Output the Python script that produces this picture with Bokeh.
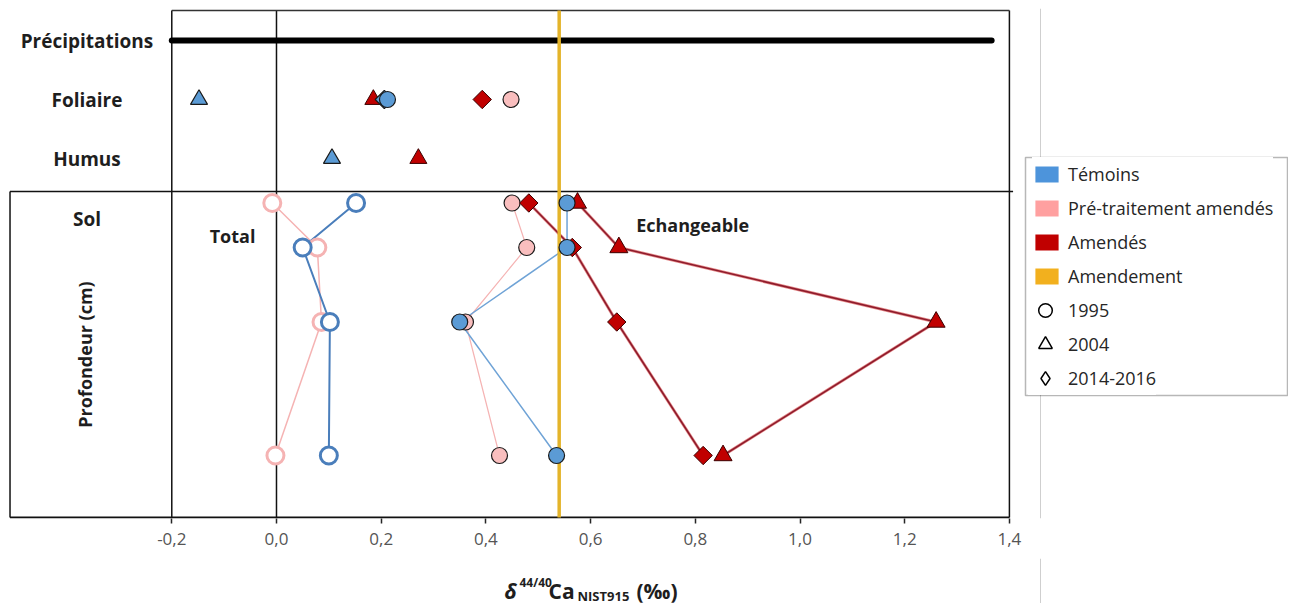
import math
from bokeh.plotting import figure
from bokeh.layouts import column
from bokeh.models import (Range1d, FixedTicker, Span, Label, Legend, LegendItem,
                          BoxAnnotation)
from bokeh.embed import file_html
from bokeh.resources import INLINE

# ---------------- data ----------------
x_ticks = [-0.2, 0.0, 0.2, 0.4, 0.6, 0.8, 1.0, 1.2, 1.4]
x_tick_labels = ["-0,2", "0,0", "0,2", "0,4", "0,6", "0,8", "1,0", "1,2", "1,4"]

row_names = ["Précipitations", "Foliaire", "Humus", "Sol"]
row_levels = [29, 88, 147, 207]          # vertical position of each compartment
soil_levels = [191.5, 236, 310.5, 444]   # soil depth rows (top -> bottom)

precip_range = [-0.2, 1.366]
amendement = 0.54

# Foliaire
fol_temoins_1995 = [0.212]
fol_temoins_2004 = [-0.148]
fol_temoins_2014 = [0.206]
fol_pretrait_1995 = [0.448]
fol_amendes_2004 = [0.185]
fol_amendes_2014 = [0.393]
# Humus
hum_temoins_2004 = [0.106]
hum_amendes_2004 = [0.271]
# Sol - total
tot_temoins_1995 = [0.152, 0.050, 0.102, 0.100]
tot_pretrait_1995 = [-0.008, 0.078, 0.086, -0.002]
# Sol - échangeable
ech_temoins_1995 = [0.555, 0.555, 0.350, 0.535]
ech_pretrait_1995 = [0.450, 0.478, 0.361, 0.426]
ech_amendes_2004 = [0.575, 0.654, 1.260, 0.853]
ech_amendes_2014 = [0.482, 0.565, 0.650, 0.815]

# ---------------- styles ----------------
BLUE = "#5b9bd5"
BLUE_DARK = "#4a7ebb"
PINK = "#f9bebe"
PINK_LINE = "#f5b3b3"
RED = "#c00000"
YELLOW = "#e4b42a"
EDGE = "#1a1a1a"
FONT = "Open Sans"
NAN = float("nan")
DIAMOND = dict(marker="square", angle=math.pi / 4, size=13)

X_START, X_END = -0.5119, 1.9331
BOX_LEFT = -0.509
TOP, BOTTOM, SEP = -1, 506, 180
GREY_EDGE = 1.4594

x_range = Range1d(X_START, X_END)

p = figure(width=1288, height=558, output_backend="svg", toolbar_location=None,
           x_range=x_range, y_range=Range1d(507, -3),
           y_axis_location=None, min_border_left=8, min_border_right=0,
           min_border_top=8, min_border_bottom=40)
p.outline_line_color = None
p.xgrid.visible = False
p.ygrid.visible = False
p.background_fill_color = "white"
p.border_fill_color = "white"

ax = p.xaxis[0]
ax.ticker = FixedTicker(ticks=x_ticks, minor_ticks=[])
ax.major_label_overrides = dict(zip(x_ticks, x_tick_labels))
ax.axis_line_color = None
ax.major_tick_line_color = "#262626"
ax.major_tick_line_width = 1.5
ax.major_tick_out = 5
ax.major_tick_in = 0
ax.minor_tick_line_color = None
ax.major_label_standoff = 9
ax.major_label_text_font = FONT
ax.major_label_text_font_size = "17px"
ax.major_label_text_color = "#555555"

# page-edge grey line behind the legend
p.add_layout(Span(location=GREY_EDGE, dimension="height", line_color="#cfcfcf",
                  line_width=1, level="underlay"))

# frame lines
p.segment(x0=[-0.2, 0.0, 1.4], y0=[TOP] * 3, x1=[-0.2, 0.0, 1.4], y1=[BOTTOM] * 3,
          line_color="#111111", line_width=1.5)
p.segment(x0=[-0.2], y0=[TOP], x1=[1.4], y1=[TOP], line_color="#333333", line_width=1.5)
p.segment(x0=[BOX_LEFT], y0=[BOTTOM], x1=[1.4], y1=[BOTTOM], line_color="#111111", line_width=2)
p.segment(x0=[BOX_LEFT], y0=[SEP], x1=[1.407], y1=[SEP], line_color="#111111", line_width=1.5)
p.segment(x0=[BOX_LEFT], y0=[SEP], x1=[BOX_LEFT], y1=[BOTTOM], line_color="#111111", line_width=1.5)

# précipitations
p.line(x=precip_range, y=[row_levels[0]] * 2, line_color="black", line_width=6, line_cap="round")

# soil profile lines
p.line(x=tot_pretrait_1995, y=soil_levels, line_color=PINK_LINE, line_width=1.5)
p.line(x=tot_temoins_1995, y=soil_levels, line_color=BLUE_DARK, line_width=2)
p.line(x=ech_pretrait_1995, y=soil_levels, line_color=PINK_LINE, line_width=1.2)
p.line(x=ech_temoins_1995, y=soil_levels, line_color="#6fa3d6", line_width=1.5)
for xs in (ech_amendes_2014, ech_amendes_2004):
    p.line(x=xs, y=soil_levels, line_color="#e58a8a", line_width=3)
    p.line(x=xs, y=soil_levels, line_color="#8e1b2b", line_width=1.5)

# amendement
p.segment(x0=[amendement], y0=[TOP], x1=[amendement], y1=[BOTTOM], line_color=YELLOW, line_width=3.5)


def pts(xs, level):
    return xs, [level] * len(xs)


# total (open circles)
p.scatter(x=tot_pretrait_1995, y=soil_levels, marker="circle", size=17,
          fill_color="white", line_color=PINK_LINE, line_width=3)
p.scatter(x=tot_temoins_1995, y=soil_levels, marker="circle", size=17,
          fill_color="white", line_color=BLUE_DARK, line_width=3)

# pink filled
x, y = pts(fol_pretrait_1995, row_levels[1])
p.scatter(x=x, y=y, marker="circle", size=16, fill_color=PINK, line_color=EDGE, line_width=1.2)
p.scatter(x=ech_pretrait_1995, y=soil_levels, marker="circle", size=16, fill_color=PINK,
          line_color=EDGE, line_width=1.2)

# red
x, y = pts(fol_amendes_2004, row_levels[1])
p.scatter(x=x, y=y, marker="triangle", size=17, fill_color=RED, line_color="#3a0000", line_width=1)
x, y = pts(fol_amendes_2014, row_levels[1])
p.scatter(x=x, y=y, fill_color=RED, line_color="#3a0000", line_width=1, **DIAMOND)
x, y = pts(hum_amendes_2004, row_levels[2])
p.scatter(x=x, y=y, marker="triangle", size=17, fill_color=RED, line_color="#3a0000", line_width=1)
p.scatter(x=ech_amendes_2004, y=soil_levels, marker="triangle", size=18, fill_color=RED,
          line_color="#3a0000", line_width=1)
p.scatter(x=ech_amendes_2014, y=soil_levels, fill_color=RED, line_color="#3a0000",
          line_width=1, **DIAMOND)

# blue
x, y = pts(fol_temoins_2004, row_levels[1])
p.scatter(x=x, y=y, marker="triangle", size=17, fill_color=BLUE, line_color=EDGE, line_width=1.2)
x, y = pts(fol_temoins_2014, row_levels[1])
p.scatter(x=x, y=y, fill_color=BLUE, line_color=EDGE, line_width=1.2, **DIAMOND)
x, y = pts(fol_temoins_1995, row_levels[1])
p.scatter(x=x, y=y, marker="circle", size=16, fill_color=BLUE, line_color=EDGE, line_width=1.2)
x, y = pts(hum_temoins_2004, row_levels[2])
p.scatter(x=x, y=y, marker="triangle", size=17, fill_color=BLUE, line_color=EDGE, line_width=1.2)
p.scatter(x=ech_temoins_1995, y=soil_levels, marker="circle", size=16, fill_color=BLUE,
          line_color=EDGE, line_width=1.2)

# ---- texts ----
LABEL_X = -0.362
for name, lvl in zip(row_names, row_levels):
    p.add_layout(Label(x=LABEL_X, y=lvl, text=name, text_align="center", text_baseline="middle",
                       text_font=FONT, text_font_style="bold", text_font_size="19px",
                       text_color="#1e1e1e"))
p.add_layout(Label(x=-0.365, y=343, text="Profondeur (cm)", angle=math.pi / 2,
                   text_align="center", text_baseline="middle", text_font=FONT,
                   text_font_style="bold", text_font_size="18px", text_color="#1e1e1e"))
p.add_layout(Label(x=-0.084, y=224, text="Total", text_align="center", text_baseline="middle",
                   text_font=FONT, text_font_style="bold", text_font_size="18px",
                   text_color="#1e1e1e"))
p.add_layout(Label(x=0.795, y=213, text="Echangeable", text_align="center",
                   text_baseline="middle", text_font=FONT, text_font_style="bold",
                   text_font_size="18px", text_color="#1e1e1e"))

# ---- legend ----
r_tem = p.quad(left=[NAN], right=[NAN], top=[NAN], bottom=[NAN], fill_color="#4d94db", line_color=None)
r_pre = p.quad(left=[NAN], right=[NAN], top=[NAN], bottom=[NAN], fill_color="#ffa0a0", line_color=None)
r_ame = p.quad(left=[NAN], right=[NAN], top=[NAN], bottom=[NAN], fill_color=RED, line_color=None)
r_amd = p.quad(left=[NAN], right=[NAN], top=[NAN], bottom=[NAN], fill_color="#f2b01e", line_color=None)
r_95 = p.scatter(x=[NAN], y=[NAN], marker="circle", fill_color="white", line_color="black", line_width=1.5)
r_04 = p.scatter(x=[NAN], y=[NAN], marker="triangle", fill_color="white", line_color="black", line_width=1.5)
r_14 = p.scatter(x=[NAN], y=[NAN], marker="diamond", fill_color="white", line_color="black", line_width=1.5)

common = dict(spacing=0, padding=0, margin=0, label_height=34, border_line_color=None,
              background_fill_color="white", background_fill_alpha=1.0,
              label_text_font=FONT, label_text_font_size="18px",
              label_text_color="#262626", label_text_baseline="middle")
legA = Legend(items=[LegendItem(label="Témoins", renderers=[r_tem]),
                     LegendItem(label="Pré-traitement amendés", renderers=[r_pre]),
                     LegendItem(label="Amendés", renderers=[r_ame]),
                     LegendItem(label="Amendement", renderers=[r_amd])],
              location=(1024, 225), glyph_width=29, glyph_height=20, label_standoff=7, **common)
legB = Legend(items=[LegendItem(label="1995", renderers=[r_95]),
                     LegendItem(label="2004", renderers=[r_04]),
                     LegendItem(label="2014-2016", renderers=[r_14])],
              location=(1020, 123), glyph_width=34, glyph_height=34, label_standoff=6, **common)
p.add_layout(legA)
p.add_layout(legB)
p.add_layout(BoxAnnotation(left=1017, right=1279, bottom=123, top=361,
                           left_units="screen", right_units="screen",
                           bottom_units="screen", top_units="screen",
                           fill_color=None, fill_alpha=0, line_color="#111111",
                           line_width=1.5, level="overlay"))

# ---- axis title δ44/40Ca_NIST915 (‰) in a strip below the chart ----
t = figure(width=1288, height=45, output_backend="svg", toolbar_location=None,
           x_range=x_range, y_range=Range1d(0, 45), x_axis_location=None,
           y_axis_location=None, min_border=0)
t.outline_line_color = None
t.xgrid.visible = False
t.ygrid.visible = False
t.add_layout(Span(location=GREY_EDGE, dimension="height", line_color="#cfcfcf",
                  line_width=1, level="underlay"))
title_parts = [
    ("δ", 496, 13, "21px", "bold italic"),
    ("44/40", 511, 21, "12px", "bold"),
    ("Ca", 540, 13, "21px", "bold"),
    ("NIST915", 569, 8, "13px", "bold"),
    ("(‰)", 628, 13, "21px", "bold"),
]
for txt, sx, sy, fs, st in title_parts:
    t.add_layout(Label(x=sx, y=sy, x_units="screen", y_units="screen", text=txt,
                       text_align="left", text_baseline="middle", text_font=FONT,
                       text_font_style=st, text_font_size=fs, text_color="#1e1e1e"))

layout = column(p, t, spacing=0)
open("out.html", "w").write(file_html(layout, INLINE))
